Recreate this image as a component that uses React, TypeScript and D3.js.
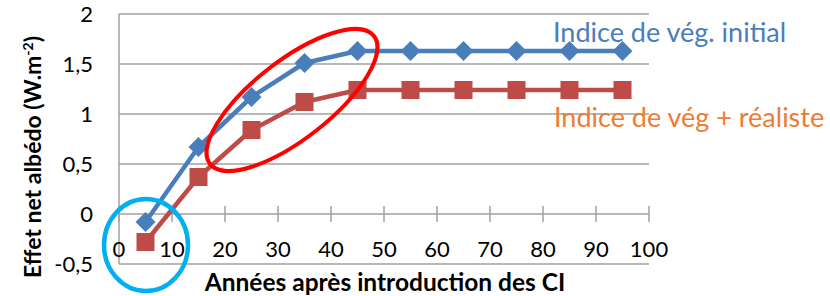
import React from "react";
import * as d3 from "d3";

const years = [5, 15, 25, 35, 45, 55, 65, 75, 85, 95];
const initialIndex = [-0.08, 0.67, 1.17, 1.51, 1.63, 1.63, 1.63, 1.63, 1.63, 1.63];
const realisticIndex = [-0.28, 0.37, 0.84, 1.12, 1.24, 1.24, 1.24, 1.24, 1.24, 1.24];
const xTicks = [0, 10, 20, 30, 40, 50, 60, 70, 80, 90, 100];
const yTicks = [-0.5, 0, 0.5, 1, 1.5, 2];
const seriesNames = ["Indice de vég. initial", "Indice de vég + réaliste"];

const W = 830;
const H = 296;
const FONT = "Lato, 'Open Sans', sans-serif";

export default function App() {
  const x = d3.scaleLinear().domain([0, 100]).range([119, 649]);
  const y = d3.scaleLinear().domain([-0.5, 2]).range([264, 14]);
  const fmt = (v: number) => String(v).replace(".", ",");

  const line = d3
    .line<number>()
    .x((_, i) => x(years[i]))
    .y((d) => y(d));

  const blue = "#4a7ebb";
  const red = "#be4b48";
  const grid = "#a0a0a0";

  return (
    <svg
      width={W}
      height={H}
      style={{ position: "absolute", left: 0, top: 0, background: "#fff" }}
      fontFamily={FONT}
    >
      {/* gridlines */}
      {yTicks
        .filter((t) => t !== 0)
        .map((t) => (
          <line
            key={"g" + t}
            x1={x(0)}
            x2={x(100)}
            y1={y(t)}
            y2={y(t)}
            stroke={grid}
            strokeWidth={1.5}
          />
        ))}
      {/* left axis */}
      <line x1={x(0)} x2={x(0)} y1={y(2)} y2={y(-0.5)} stroke={grid} strokeWidth={1.5} />
      {/* x axis at 0 */}
      <line x1={x(0)} x2={x(100)} y1={y(0)} y2={y(0)} stroke={grid} strokeWidth={1.5} />
      {xTicks.map((t) => (
        <line
          key={"t" + t}
          x1={x(t)}
          x2={x(t)}
          y1={y(0) - 8}
          y2={y(0) + 8}
          stroke={grid}
          strokeWidth={1.5}
        />
      ))}
      {/* y tick labels */}
      {yTicks.map((t) => (
        <text
          key={"yl" + t}
          x={93}
          y={y(t)}
          dy="0.35em"
          textAnchor="end"
          fontSize={22}
          fill="#000"
        >
          {fmt(t)}
        </text>
      ))}
      {/* x tick labels */}
      {xTicks.map((t) => (
        <text
          key={"xl" + t}
          x={x(t)}
          y={249}
          dy="0.35em"
          textAnchor="middle"
          fontSize={22}
          fill="#000"
        >
          {t}
        </text>
      ))}
      {/* axis titles */}
      <text x={385} y={291} textAnchor="middle" fontSize={24.5} fontWeight="bold" fill="#000">
        Années après introduction des CI
      </text>
      <text
        transform="translate(41,157) rotate(-90)"
        textAnchor="middle"
        fontSize={23}
        fontWeight="bold"
        fill="#000"
      >
        Effet net albédo (W.m
        <tspan baselineShift="super" fontSize={14}>-2</tspan>
        <tspan>)</tspan>
      </text>

      {/* series */}
      <path d={line(initialIndex) || ""} fill="none" stroke={blue} strokeWidth={4.5} strokeLinejoin="round" />
      <path d={line(realisticIndex) || ""} fill="none" stroke={red} strokeWidth={4.5} strokeLinejoin="round" />
      {initialIndex.map((v, i) => {
        const cx = x(years[i]);
        const cy = y(v);
        const r = 10;
        return (
          <path
            key={"d" + i}
            d={`M${cx},${cy - r}L${cx + r},${cy}L${cx},${cy + r}L${cx - r},${cy}Z`}
            fill={blue}
          />
        );
      })}
      {realisticIndex.map((v, i) => {
        const cx = x(years[i]);
        const cy = y(v);
        const s = 18;
        return <rect key={"s" + i} x={cx - s / 2} y={cy - s / 2} width={s} height={s} fill={red} />;
      })}

      {/* annotations */}
      <ellipse
        cx={292}
        cy={100}
        rx={104}
        ry={39}
        transform="rotate(-38 292 100)"
        fill="none"
        stroke="#ff0000"
        strokeWidth={4}
      />
      <ellipse cx={146} cy={245} rx={42} ry={46} fill="none" stroke="#00b0f0" strokeWidth={4.5} />

      {/* series labels */}
      <text x={553} y={42} fontSize={27} fill={blue}>
        {seriesNames[0]}
      </text>
      <text x={554} y={127} fontSize={27} fill="#ed7d31">
        {seriesNames[1]}
      </text>
    </svg>
  );
}
